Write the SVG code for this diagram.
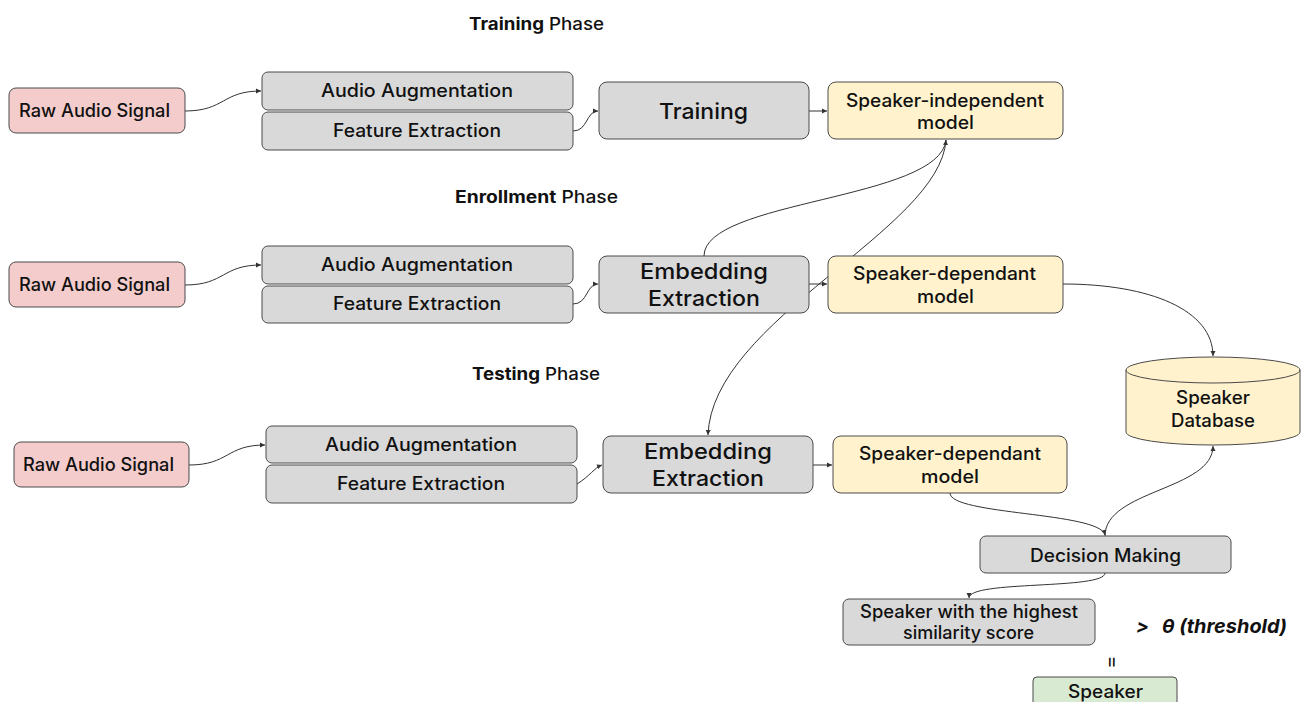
<svg xmlns="http://www.w3.org/2000/svg" width="1306" height="702" viewBox="0 0 1306 702">
<style>
.bx{stroke:#4a4a4a;stroke-width:1}
.g{fill:#d9d9d9}
.p{fill:#f4cccc}
.y{fill:#fff2cc}
.gr{fill:#d9ead3}
text{font-family:Inter,"Open Sans","DejaVu Sans",sans-serif;fill:#111;font-weight:500}
.t{font-size:18px}
.L{font-size:22px}
.h{font-size:17px}
.c{fill:none;stroke:#333;stroke-width:1}
</style>
<defs>
<marker id="ar" markerWidth="6" markerHeight="6" refX="5" refY="3" orient="auto" markerUnits="userSpaceOnUse">
<path d="M0,0.5 L5,3 L0,5.5 Z" fill="#333"/>
</marker>
</defs>
<rect width="1306" height="702" fill="#fff"/>

<text class="h" x="469" y="30" textLength="135" lengthAdjust="spacingAndGlyphs"><tspan font-weight="bold">Training</tspan> Phase</text>
<text class="h" x="455" y="203" textLength="163" lengthAdjust="spacingAndGlyphs"><tspan font-weight="bold">Enrollment</tspan> Phase</text>
<text class="h" x="472" y="380" textLength="128" lengthAdjust="spacingAndGlyphs"><tspan font-weight="bold">Testing</tspan> Phase</text>

<g id="connectors">
<path class="c" d="M185,111 C225,111 222,91 261,91" marker-end="url(#ar)"/>
<path class="c" d="M573,131 C588,131 586,111 598,111" marker-end="url(#ar)"/>
<path class="c" d="M809,111 L827,111" marker-end="url(#ar)"/>
<path class="c" d="M185,285 C225,285 222,265 261,265" marker-end="url(#ar)"/>
<path class="c" d="M573,304 C588,304 586,284 598,284" marker-end="url(#ar)"/>
<path class="c" d="M809,284 L827,284" marker-end="url(#ar)"/>
<path class="c" d="M189,465 C229,465 226,445 265,445" marker-end="url(#ar)"/>
<path class="c" d="M577,484 C590,476 594,468 602,465" marker-end="url(#ar)"/>
<path class="c" d="M813,465 L832,465" marker-end="url(#ar)"/>
<path class="c" d="M704,256 C704,200 940,200 946,140" marker-end="url(#ar)"/>
<path class="c" d="M946,140 C940,230 712,320 708,435" marker-end="url(#ar)"/>
<path class="c" d="M1063,284 C1150,284 1213,310 1213,356" marker-end="url(#ar)"/>
<path class="c" d="M950,493 C950,515 1100,512 1105,535" marker-end="url(#ar)"/>
<path class="c" d="M1105,536 C1105,490 1213,490 1213,446" marker-end="url(#ar)"/>
<path class="c" d="M1105,573 C1105,590 969,580 969,598" marker-end="url(#ar)"/>
</g>

<g id="raw1"><rect class="bx p" x="9" y="88" width="176" height="45" rx="7"/><text class="t" x="19" y="117" textLength="151" lengthAdjust="spacingAndGlyphs">Raw Audio Signal</text></g>
<g id="aug1"><rect class="bx g" x="262" y="72" width="311" height="38" rx="6"/><text class="t" x="321" y="97" textLength="192" lengthAdjust="spacingAndGlyphs">Audio Augmentation</text></g>
<g id="feat1"><rect class="bx g" x="262" y="112" width="311" height="38" rx="6"/><text class="t" x="333" y="137" textLength="168" lengthAdjust="spacingAndGlyphs">Feature Extraction</text></g>
<g id="training"><rect class="bx g" x="599" y="82" width="210" height="57" rx="8"/><text class="L" x="659" y="119" textLength="89" lengthAdjust="spacingAndGlyphs">Training</text></g>
<g id="indep"><rect class="bx y" x="828" y="82" width="235" height="57" rx="8"/><text class="t" x="846" y="107" textLength="198" lengthAdjust="spacingAndGlyphs">Speaker-independent</text><text class="t" x="917" y="129" textLength="57" lengthAdjust="spacingAndGlyphs">model</text></g>

<g id="raw2"><rect class="bx p" x="9" y="262" width="176" height="45" rx="7"/><text class="t" x="19" y="291" textLength="151" lengthAdjust="spacingAndGlyphs">Raw Audio Signal</text></g>
<g id="aug2"><rect class="bx g" x="262" y="246" width="311" height="38" rx="6"/><text class="t" x="321" y="271" textLength="192" lengthAdjust="spacingAndGlyphs">Audio Augmentation</text></g>
<g id="feat2"><rect class="bx g" x="262" y="286" width="311" height="37" rx="6"/><text class="t" x="333" y="310" textLength="168" lengthAdjust="spacingAndGlyphs">Feature Extraction</text></g>
<g id="emb2"><rect class="bx g" x="599" y="256" width="210" height="57" rx="8"/><text class="L" x="640" y="279" textLength="128" lengthAdjust="spacingAndGlyphs">Embedding</text><text class="L" x="648" y="306" textLength="112" lengthAdjust="spacingAndGlyphs">Extraction</text></g>
<g id="dep2"><rect class="bx y" x="828" y="256" width="235" height="57" rx="8"/><text class="t" x="853" y="280" textLength="183" lengthAdjust="spacingAndGlyphs">Speaker-dependant</text><text class="t" x="917" y="303" textLength="57" lengthAdjust="spacingAndGlyphs">model</text></g>

<g id="raw3"><rect class="bx p" x="14" y="442" width="175" height="45" rx="7"/><text class="t" x="23" y="471" textLength="151" lengthAdjust="spacingAndGlyphs">Raw Audio Signal</text></g>
<g id="aug3"><rect class="bx g" x="266" y="426" width="311" height="37" rx="6"/><text class="t" x="325" y="451" textLength="192" lengthAdjust="spacingAndGlyphs">Audio Augmentation</text></g>
<g id="feat3"><rect class="bx g" x="266" y="465" width="311" height="38" rx="6"/><text class="t" x="337" y="490" textLength="168" lengthAdjust="spacingAndGlyphs">Feature Extraction</text></g>
<g id="emb3"><rect class="bx g" x="603" y="436" width="210" height="57" rx="8"/><text class="L" x="644" y="459" textLength="128" lengthAdjust="spacingAndGlyphs">Embedding</text><text class="L" x="652" y="486" textLength="112" lengthAdjust="spacingAndGlyphs">Extraction</text></g>
<g id="dep3"><rect class="bx y" x="833" y="436" width="234" height="57" rx="8"/><text class="t" x="859" y="460" textLength="182" lengthAdjust="spacingAndGlyphs">Speaker-dependant</text><text class="t" x="921" y="483" textLength="58" lengthAdjust="spacingAndGlyphs">model</text></g>

<g id="db">
<path class="bx y" d="M1126,370 L1126,432 A87,13 0 0 0 1300,432 L1300,370 A87,13 0 0 0 1126,370 Z"/>
<path fill="none" stroke="#4a4a4a" stroke-width="1" d="M1126,370 A87,13 0 0 0 1300,370"/>
<text class="t" x="1176" y="404" textLength="74" lengthAdjust="spacingAndGlyphs">Speaker</text><text class="t" x="1171" y="427" textLength="84" lengthAdjust="spacingAndGlyphs">Database</text>
</g>

<g id="decision"><rect class="bx g" x="980" y="536" width="251" height="37" rx="6"/><text class="t" x="1030" y="562" textLength="151" lengthAdjust="spacingAndGlyphs">Decision Making</text></g>
<g id="highest"><rect class="bx g" x="843" y="599" width="252" height="46" rx="6"/><text class="t" x="860" y="618" textLength="218" lengthAdjust="spacingAndGlyphs">Speaker with the highest</text><text class="t" x="903" y="639" textLength="131" lengthAdjust="spacingAndGlyphs">similarity score</text></g>
<g id="threshold"><text x="1136" y="633" style="font-size:19px;font-weight:bold;font-style:italic"><tspan>&gt;</tspan><tspan x="1162" textLength="125" lengthAdjust="spacingAndGlyphs">θ (threshold)</tspan></text></g>
<g id="eq"><text x="1112" y="668" style="font-size:20px;font-weight:400;text-anchor:middle" transform="rotate(90 1112 662)">=</text></g>
<g id="speaker"><rect class="bx gr" x="1033" y="677" width="144" height="40" rx="4"/><text class="t" x="1068" y="698" textLength="75" lengthAdjust="spacingAndGlyphs">Speaker</text></g>
</svg>
